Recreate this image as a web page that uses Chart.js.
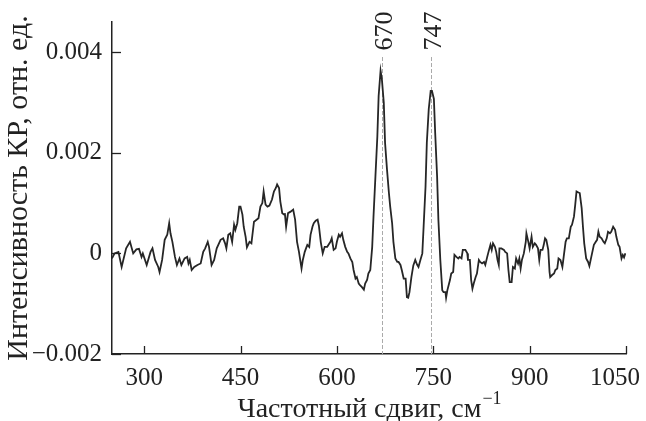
<!DOCTYPE html>
<html>
<head>
<meta charset="utf-8">
<script src="https://cdn.jsdelivr.net/npm/chart.js@4.4.1/dist/chart.umd.min.js"></script>
<style>
  html, body { margin: 0; padding: 0; background: #fff; }
  #wrap { width: 646px; height: 421px; }
</style>
</head>
<body>
<div id="wrap"><canvas id="raman" width="646" height="421"></canvas></div>
<script>
// Raman shift, cm^-1
const shift = [
  250, 254, 260, 265, 272, 278, 283, 288, 292, 296,
  298, 304, 310, 313, 317, 322, 324, 328, 332, 336,
  339, 341, 344, 348, 351, 355, 358, 363, 367, 369,
  371, 374, 378, 383, 388, 392, 395, 399, 401, 405,
  409, 413, 419, 423, 426, 428, 431, 434, 437, 440,
  442, 445, 448, 450, 453, 455, 458, 460, 464, 467,
  471, 475, 478, 481, 484, 486, 489, 492, 495, 499,
  502, 505, 507, 510, 512, 515, 518, 519, 521, 524,
  528, 532, 535, 538, 541, 545, 547, 550, 554, 557,
  559, 562, 564, 567, 570, 572, 575, 578, 581, 585,
  587, 590, 592, 595, 598, 600, 603, 605, 608, 610,
  613, 616, 618, 621, 624, 626, 629, 631, 634, 636,
  639, 642, 644, 647, 649, 652, 655, 657, 660, 663,
  665, 668, 670, 673, 675, 678, 681, 683, 686, 688,
  691, 694, 696, 699, 701, 704, 707, 709, 711, 713,
  716, 719, 722, 725, 727, 730, 733, 735, 738, 740,
  743, 746, 748, 751, 753, 756, 758, 761, 764, 766,
  769, 770, 772, 776, 778, 781, 783, 786, 789, 791,
  794, 796, 800, 803, 804, 807, 809, 811, 813, 816,
  818, 821, 823, 826, 829, 831, 834, 836, 839, 841,
  843, 846, 848, 850, 852, 853, 856, 860, 862, 865,
  867, 869, 872, 874, 877, 879, 882, 884, 886, 888,
  891, 894, 895, 898, 900, 903, 905, 908, 910, 913,
  915, 917, 920, 922, 924, 926, 929, 931, 932, 935,
  938, 940, 943, 945, 948, 951, 953, 956, 958, 961,
  964, 966, 969, 971, 973, 976, 978, 981, 983, 985,
  988, 991, 993, 996, 1000, 1003, 1005, 1007, 1009, 1012,
  1015, 1017, 1020, 1022, 1025, 1027, 1030, 1033, 1035, 1038,
  1040, 1043, 1045, 1047, 1049
];

// intensity in units of 0.001
const intensityMilli = [
  -0.10, 0.00, 0.03, -0.27, 0.10, 0.23, 0.00, 0.08, 0.09, -0.07,
  0.00, -0.23, 0.03, 0.10, -0.13, -0.27, -0.37, -0.13, 0.27, 0.37,
  0.60, 0.40, 0.23, -0.07, -0.23, -0.10, -0.23, -0.10, -0.07, -0.20,
  -0.13, -0.33, -0.27, -0.23, -0.20, 0.03, 0.10, 0.23, 0.13, -0.23,
  -0.13, 0.10, 0.27, 0.30, 0.20, 0.10, 0.37, 0.40, 0.23, 0.57,
  0.47, 0.60, 0.93, 0.93, 0.77, 0.53, 0.33, 0.12, 0.23, 0.20,
  0.63, 0.67, 0.70, 0.93, 1.00, 1.23, 0.97, 0.93, 0.95, 1.07,
  1.23, 1.30, 1.37, 1.30, 1.03, 0.80, 0.77, 0.80, 0.53, 0.80,
  0.83, 0.87, 0.67, 0.23, 0.03, -0.30, -0.13, 0.03, 0.17, 0.13,
  0.37, 0.53, 0.60, 0.65, 0.67, 0.55, 0.22, 0.00, 0.13, 0.13,
  0.17, 0.23, 0.30, 0.07, 0.10, 0.23, 0.37, 0.33, 0.40, 0.27,
  0.13, 0.03, 0.00, -0.10, -0.17, -0.33, -0.50, -0.47, -0.60, -0.63,
  -0.67, -0.72, -0.60, -0.53, -0.40, -0.33, 0.13, 0.73, 1.53, 2.33,
  3.13, 3.63, 3.47, 3.00, 2.20, 1.67, 1.20, 0.93, 0.60, 0.23,
  -0.10, -0.17, -0.17, -0.23, -0.33, -0.50, -0.50, -0.87, -0.88, -0.77,
  -0.47, -0.24, -0.13, -0.23, -0.27, -0.13, 0.00, 0.53, 1.33, 2.20,
  2.87, 3.23, 3.23, 3.07, 2.40, 1.53, 0.67, -0.13, -0.73, -0.77,
  -0.77, -0.88, -0.73, -0.53, -0.40, -0.37, -0.03, -0.07, -0.10, -0.07,
  -0.10, 0.07, 0.07, 0.00, -0.13, -0.13, -0.53, -0.70, -0.60, -0.47,
  -0.40, -0.13, -0.17, -0.20, -0.17, -0.23, -0.07, 0.03, 0.17, 0.07,
  0.20, 0.13, 0.03, -0.13, -0.23, 0.10, 0.10, 0.07, 0.03, 0.00,
  -0.33, -0.57, -0.57, -0.27, -0.30, -0.10, -0.20, -0.10, -0.30, -0.13,
  0.00, 0.23, 0.40, 0.23, 0.10, 0.33, 0.13, 0.20, 0.17, 0.10,
  -0.13, 0.07, 0.07, 0.17, 0.30, 0.27, 0.07, -0.37, -0.47, -0.43,
  -0.40, -0.33, -0.30, -0.10, -0.13, -0.27, -0.07, 0.23, 0.30, 0.30,
  0.53, 0.57, 0.73, 0.97, 1.23, 1.21, 1.20, 0.90, 0.53, 0.20,
  -0.10, -0.17, -0.25, -0.07, 0.17, 0.23, 0.27, 0.43, 0.33, 0.30,
  0.23, 0.20, 0.30, 0.43, 0.40, 0.43, 0.53, 0.47, 0.33, 0.17,
  0.13, -0.10, -0.03, -0.08, 0.00
];

const xTickValues = [300, 450, 600, 750, 900, 1050];
const yTickValues = [-0.002, 0, 0.002, 0.004];
const peakPositions = [670, 747];
const peakLabels = ["670", "747"];

const xTitle = "Частотный сдвиг, см";
const xTitleSup = "−1";
const yTitle = "Интенсивность КР, отн. ед.";

const ink = "#222";
const serif = "'Liberation Serif', 'Times New Roman', serif";

const points = shift.map((x, i) => ({ x, y: intensityMilli[i] / 1000 }));

// dashed markers under the curve
const peakLines = {
  id: "peakLines",
  beforeDatasetsDraw(chart) {
    const { ctx, chartArea, scales: { x } } = chart;
    ctx.save();
    ctx.strokeStyle = "#aaa";
    ctx.lineWidth = 1;
    ctx.setLineDash([4, 2]);
    peakPositions.forEach((p) => {
      const px = Math.round(x.getPixelForValue(p)) + 0.5;
      ctx.beginPath();
      ctx.moveTo(px, 57);
      ctx.lineTo(px, chartArea.bottom);
      ctx.stroke();
    });
    ctx.restore();
  },
};

// inward ticks, x tick labels, peak labels, x title with superscript
const decorations = {
  id: "decorations",
  afterDraw(chart) {
    const { ctx, chartArea, width, scales: { x, y } } = chart;
    ctx.save();
    ctx.strokeStyle = ink;
    ctx.lineWidth = 1.3;
    xTickValues.forEach((v) => {
      const px = Math.round(x.getPixelForValue(v)) + 0.5;
      ctx.beginPath();
      ctx.moveTo(px, chartArea.bottom);
      ctx.lineTo(px, chartArea.bottom - 8);
      ctx.stroke();
    });
    yTickValues.forEach((v) => {
      const py = Math.round(y.getPixelForValue(v)) + 0.5;
      ctx.beginPath();
      ctx.moveTo(chartArea.left, py);
      ctx.lineTo(chartArea.left + 9, py);
      ctx.stroke();
    });

    ctx.fillStyle = ink;
    ctx.font = "25px " + serif;
    ctx.textAlign = "center";
    ctx.textBaseline = "alphabetic";
    xTickValues.forEach((v) => {
      const label = String(v);
      const half = ctx.measureText(label).width / 2;
      const cx = Math.min(x.getPixelForValue(v), width - 6 - half);
      ctx.fillText(label, cx, 385);
    });

    ctx.font = "26px " + serif;
    ctx.textBaseline = "middle";
    peakPositions.forEach((p, i) => {
      const px = x.getPixelForValue(p);
      ctx.save();
      ctx.translate(px + 3, 31);
      ctx.rotate(-Math.PI / 2);
      ctx.fillText(peakLabels[i], 0, 0);
      ctx.restore();
    });

    ctx.textAlign = "left";
    ctx.textBaseline = "alphabetic";
    ctx.font = "28px " + serif;
    const w = ctx.measureText(xTitle).width;
    ctx.font = "18px " + serif;
    const ws = ctx.measureText(xTitleSup).width;
    const x0 = (chartArea.left + chartArea.right) / 2 - (w + ws) / 2;
    ctx.font = "28px " + serif;
    ctx.fillText(xTitle, x0, 417);
    ctx.font = "18px " + serif;
    ctx.fillText(xTitleSup, x0 + w + 1, 404);
    ctx.restore();
  },
};

new Chart(document.getElementById("raman"), {
  type: "line",
  data: {
    datasets: [
      {
        data: points,
        borderColor: "#262626",
        borderWidth: 1.8,
        pointRadius: 0,
        tension: 0,
        fill: false,
      },
    ],
  },
  options: {
    responsive: false,
    animation: false,
    devicePixelRatio: 1,
    layout: { padding: { top: 22, right: 20, left: 0, bottom: 0 } },
    plugins: {
      legend: { display: false },
      tooltip: { enabled: false },
    },
    scales: {
      x: {
        type: "linear",
        min: 250,
        max: 1050,
        afterFit: (s) => { s.height = 67; s.paddingLeft = 0; s.paddingRight = 0; },
        afterBuildTicks: (s) => { s.ticks = xTickValues.map((v) => ({ value: v })); },
        grid: { display: true, drawOnChartArea: false, drawTicks: false },
        border: { display: true, color: ink, width: 1.5 },
        ticks: { display: false },
      },
      y: {
        type: "linear",
        min: -0.002,
        max: 0.0046,
        afterFit: (s) => { s.width = 112; s.paddingTop = 0; s.paddingBottom = 0; },
        afterBuildTicks: (s) => { s.ticks = yTickValues.map((v) => ({ value: v })); },
        grid: { display: true, drawOnChartArea: false, drawTicks: false },
        border: { display: true, color: ink, width: 1.5 },
        ticks: {
          color: ink,
          font: { family: serif, size: 25 },
          padding: 10,
          callback: (v) => (v === 0 ? "0" : (v < 0 ? "\u2212" : "") + Math.abs(v).toFixed(3)),
        },
        title: {
          display: true,
          text: yTitle,
          color: ink,
          font: { family: serif, size: 30 },
          padding: { top: 1, bottom: 0 },
        },
      },
    },
  },
  plugins: [peakLines, decorations],
});
</script>
</body>
</html>
